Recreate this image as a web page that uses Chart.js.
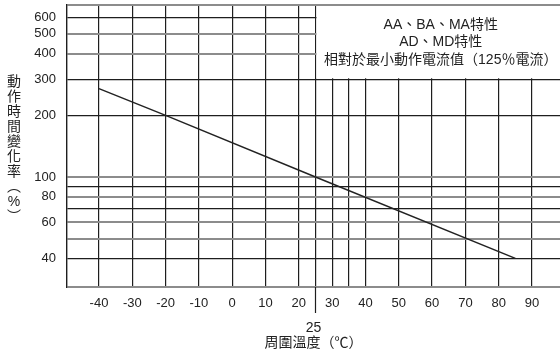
<!DOCTYPE html>
<html>
<head>
<meta charset="utf-8">
<script src="https://cdn.jsdelivr.net/npm/chart.js@4"></script>
<style>
  html, body { margin: 0; padding: 0; background: #fff; }
  #wrap { width: 560px; height: 356px; }
</style>
</head>
<body>
<div id="wrap"><canvas id="myChart" width="560" height="356"></canvas></div>
<script>
// 周圍溫度 (℃) / 動作時間變化率 (%)
const tempValues = [-40, -20, 25, 85];
const rateValues = [270, 200, 100, 40];

const xTickValues = [-40, -30, -20, -10, 0, 10, 20, 25, 30, 35, 40, 50, 60, 70, 80, 90];
const xTickLabels = [-40, -30, -20, -10, 0, 10, 20, 30, 40, 50, 60, 70, 80, 90];
const xMin = -49.6;
const xMax = 98.4;

const yMin = 29;
const yMax = 692;
const yGridValues = [yMin, 40, 50, 60, 70, 80, 90, 100, 200, 300, 400, 500, 600, yMax];
const yTickLabels = [40, 60, 80, 100, 200, 300, 400, 500, 600];
const yGrayLines = [yMin, 50, 60, 80, 100, 400, 500, yMax];

const yTitleChars = ['動', '作', '時', '間', '變', '化', '率', '︵', '%', '︶'];
const boxLines = ['AA、BA、MA特性', 'AD、MD特性', '相對於最小動作電流值（125％電流）'];

const FONT = '"Liberation Sans", "Noto Sans CJK TC", sans-serif';
const ctx = document.getElementById('myChart').getContext('2d');

const extras = {
    id: 'extras',
    afterDraw(chart) {
        const c = chart.ctx;
        const xs = chart.scales.x;
        const ys = chart.scales.y;
        const area = chart.chartArea;
        c.save();

        // 25℃ 延長線
        const x25 = Math.round(xs.getPixelForValue(25)) + 0.5;
        c.strokeStyle = '#1e1e1e';
        c.lineWidth = 1.2;
        c.beginPath();
        c.moveTo(x25, area.bottom);
        c.lineTo(x25, area.bottom + 26);
        c.stroke();

        // 說明框
        const boxBottom = ys.getPixelForValue(300) - 1;
        c.fillStyle = '#fff';
        c.fillRect(x25 + 1, area.top + 1, area.right - x25, boxBottom - area.top - 1);

        c.fillStyle = '#222';
        c.font = '14px ' + FONT;
        c.textAlign = 'center';
        c.textBaseline = 'middle';
        const cx = (x25 + area.right) / 2 + 3;
        boxLines.forEach((t, i) => c.fillText(t, cx, area.top + 20 + i * 17.5));

        // 縱軸標題 (直排)
        yTitleChars.forEach((ch, i) => c.fillText(ch, 14, 82 + i * 15));
        c.restore();
    }
};

const config = {
    type: 'line',
    data: {
        datasets: [{
            data: tempValues.map((t, i) => ({ x: t, y: rateValues[i] })),
            borderColor: '#222',
            borderWidth: 1.5,
            pointRadius: 0,
            tension: 0
        }]
    },
    options: {
        responsive: false,
        animation: false,
        layout: { padding: { top: 5, left: 0, right: 0, bottom: 0 } },
        plugins: {
            legend: { display: false },
            tooltip: { enabled: false }
        },
        scales: {
            x: {
                type: 'linear',
                min: xMin,
                max: xMax,
                afterBuildTicks: axis => { axis.ticks = xTickValues.map(v => ({ value: v })); },
                afterFit: axis => {
                    axis.height = 69;
                    axis.paddingLeft = 0;
                    axis.paddingRight = 0;
                },
                ticks: {
                    autoSkip: false,
                    maxRotation: 0,
                    padding: 9,
                    color: '#222',
                    font: { size: 13, family: FONT },
                    callback: v => xTickLabels.includes(v) ? String(v) : ''
                },
                grid: { color: '#1e1e1e', lineWidth: 1.2, drawTicks: false },
                border: { display: false },
                title: {
                    display: true,
                    text: ['25', '周圍溫度（℃）'],
                    color: '#222',
                    font: { size: 14, family: FONT, lineHeight: 1.1 },
                    padding: { top: 0, bottom: 5 }
                }
            },
            y: {
                type: 'logarithmic',
                min: yMin,
                max: yMax,
                afterBuildTicks: axis => { axis.ticks = yGridValues.map(v => ({ value: v })); },
                afterFit: axis => {
                    axis.width = 67;
                    axis.paddingTop = 0;
                    axis.paddingBottom = 0;
                },
                ticks: {
                    autoSkip: false,
                    padding: 11,
                    color: '#222',
                    font: { size: 13, family: FONT },
                    callback: v => yTickLabels.includes(v) ? String(v) : ''
                },
                grid: {
                    drawTicks: false,
                    color: c => yGrayLines.includes(c.tick.value) ? '#8c8c8c' : '#1e1e1e',
                    lineWidth: c => yGrayLines.includes(c.tick.value) ? 2 : 1.2
                },
                border: { display: true, color: '#1e1e1e', width: 1.4 }
            }
        }
    },
    plugins: [extras]
};

new Chart(ctx, config);
</script>
</body>
</html>
